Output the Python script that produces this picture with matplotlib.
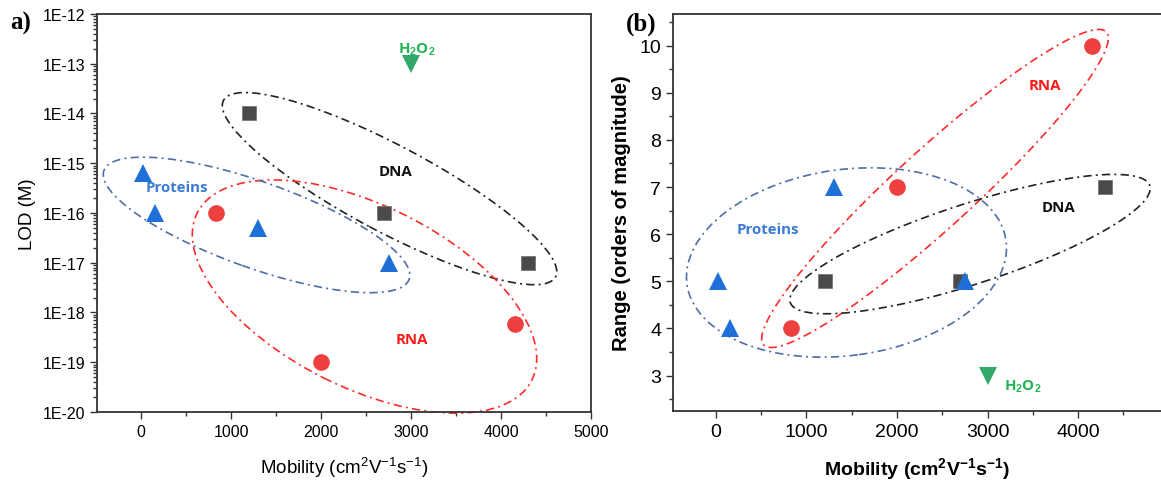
import numpy as np
import matplotlib
matplotlib.use("Agg")
import matplotlib.pyplot as plt
from matplotlib.patches import Ellipse
from matplotlib.transforms import ScaledTranslation
from matplotlib.ticker import FixedLocator, MultipleLocator, LogLocator, NullFormatter

plt.rcParams['font.family'] = ['Liberation Sans', 'DejaVu Sans']
plt.rcParams['mathtext.fontset'] = 'custom'
plt.rcParams['mathtext.rm'] = 'Liberation Sans'
plt.rcParams['mathtext.bf'] = 'Liberation Sans:bold'

# ---- data (mobility in cm2/Vs) ----
dna_mob = [1200, 2700, 4300]
dna_lod = [1e-14, 1e-16, 1e-17]
dna_range = [5, 5, 7]

rna_mob = [830, 2000, 4150]
rna_lod = [1e-16, 1e-19, 6e-19]
rna_range = [4, 7, 10]

prot_mob = [20, 150, 1300, 2750]
prot_lod = [6.5e-16, 1e-16, 5e-17, 1e-17]
prot_range = [5, 4, 7, 5]

h2o2_mob = [3000]
h2o2_lod = [1e-13]
h2o2_range = [3]

lod_ticks = [1e-20, 1e-19, 1e-18, 1e-17, 1e-16, 1e-15, 1e-14, 1e-13, 1e-12]
lod_labels = ['1E-20', '1E-19', '1E-18', '1E-17', '1E-16', '1E-15', '1E-14', '1E-13', '1E-12']

# colours
c_dna, c_rna, c_prot, c_h2o2 = '#4a4a4a', '#ef4040', '#1f6fd8', '#2fa868'
c_dna_l, c_rna_l, c_prot_l = '#222222', '#ff2a2a', '#4d6ea6'
t_dna, t_rna, t_prot, t_h2o2 = '#111111', '#ff1a1a', '#3b7bd2', '#22b455'

# group outlines: (x, y, semi-axes in px, angle, colour)
outline_a = [(2761, 10**-15.51, 188, 43, -28, c_dna_l),
             (2483, 10**-17.68, 187, 91, -26.5, c_rna_l),
             (1283, 10**-16.24, 162, 43, -19.6, c_prot_l)]
outline_b = [(2420, 6.97, 232, 39, 42.4, c_rna_l),
             (1442, 5.40, 161, 93, 7.8, c_prot_l),
             (2807, 5.79, 189, 40, 18, c_dna_l)]

W, H = 1161, 485
fig = plt.figure(figsize=(W / 100, H / 100), dpi=100)
ax1 = fig.add_axes([97 / W, 1 - 413 / H, (591 - 97) / W, (413 - 15) / H])
ax2 = fig.add_axes([673 / W, 1 - 412 / H, (1161 - 673) / W, (412 - 15) / H])

dash = (0, (5, 2.5, 1.2, 2.5))


def outline(ax, x, y, a, b, ang, col):
    tr = fig.dpi_scale_trans + ScaledTranslation(x, y, ax.transData)
    e = Ellipse((0, 0), 2 * a / 100, 2 * b / 100, angle=ang, transform=tr,
                fill=False, edgecolor=col, lw=1.2, linestyle=dash, zorder=2, clip_on=False)
    ax.add_patch(e)


def markers(ax, ys):
    ax.plot(dna_mob, ys[0], 's', ms=10.3, color=c_dna, mec='#777777', mew=0.6, zorder=3, ls='none')
    ax.plot(rna_mob, ys[1], 'o', ms=12, color=c_rna, mew=0, zorder=3, ls='none')
    ax.plot(prot_mob, ys[2], '^', ms=13, color=c_prot, mew=0, zorder=3, ls='none')
    ax.plot(h2o2_mob, ys[3], 'v', ms=13, color=c_h2o2, mew=0, zorder=3, ls='none')


lab_kw = dict(family=['Open Sans', 'DejaVu Sans'], fontweight='bold', fontsize=10.8,
              ha='center', va='center')

# ---- panel a ----
ax1.set_yscale('log')
ax1.set_xlim(-490, 5000)
ax1.set_ylim(1e-20, 1e-12)
markers(ax1, [dna_lod, rna_lod, prot_lod, h2o2_lod])
for o in outline_a:
    outline(ax1, *o)
ax1.text(400, 10**-15.48, 'Proteins', color=t_prot, **lab_kw)
ax1.text(2822, 10**-15.16, 'DNA', color=t_dna, **lab_kw)
ax1.text(3011, 10**-18.53, 'RNA', color=t_rna, **lab_kw)
ax1.text(3067, 10**-12.70, r'H$_\mathbf{2}$O$_\mathbf{2}$', color=t_h2o2, **lab_kw)

ax1.yaxis.set_major_locator(FixedLocator(lod_ticks))
ax1.set_yticklabels(lod_labels)
ax1.yaxis.set_minor_locator(LogLocator(base=10, subs=np.arange(2, 10), numticks=20))
ax1.yaxis.set_minor_formatter(NullFormatter())
ax1.xaxis.set_major_locator(FixedLocator([0, 1000, 2000, 3000, 4000, 5000]))
ax1.xaxis.set_minor_locator(MultipleLocator(500))
ax1.set_xlabel(r'Mobility (cm$^{2}$V$^{-1}$s$^{-1}$)', fontsize=13.5, labelpad=11)
ax1.set_ylabel('LOD (M)', fontsize=13.5, labelpad=5)
for s in ax1.spines.values():
    s.set_color('#333333')
    s.set_linewidth(1.3)
ax1.tick_params(which='both', direction='out', top=False, right=False, labelsize=11.5,
                color='#333333', width=1)
ax1.tick_params(which='major', length=5)
ax1.tick_params(which='minor', length=3)

# ---- panel b ----
ax2.set_xlim(-475, 4917)
ax2.set_ylim(2.25, 10.67)
markers(ax2, [dna_range, rna_range, prot_range, h2o2_range])
for o in outline_b:
    outline(ax2, *o)
ax2.text(575, 6.12, 'Proteins', color=t_prot, **lab_kw)
ax2.text(3779, 6.57, 'DNA', color=t_dna, **lab_kw)
ax2.text(3635, 9.17, 'RNA', color=t_rna, **lab_kw)
h_kw = dict(lab_kw)
h_kw['ha'] = 'left'
ax2.text(3182, 2.78, r'H$_\mathbf{2}$O$_\mathbf{2}$', color=t_h2o2, **h_kw)

ax2.xaxis.set_major_locator(FixedLocator([0, 1000, 2000, 3000, 4000]))
ax2.xaxis.set_minor_locator(MultipleLocator(500))
ax2.yaxis.set_major_locator(FixedLocator([3, 4, 5, 6, 7, 8, 9, 10]))
ax2.yaxis.set_minor_locator(MultipleLocator(0.5))
ax2.set_xlabel(r'Mobility (cm$^{\mathbf{2}}$V$^{\mathbf{-1}}$s$^{\mathbf{-1}}$)', fontsize=14,
               fontweight='bold', labelpad=11)
ax2.set_ylabel('Range (orders of magnitude)', fontsize=14.5, fontweight='bold', labelpad=6)
ax2.spines['right'].set_visible(False)
for s in ax2.spines.values():
    s.set_color('#333333')
    s.set_linewidth(1.3)
ax2.tick_params(which='both', direction='out', top=False, right=False, labelsize=14,
                color='#333333', width=1)
ax2.tick_params(which='major', length=5)
ax2.tick_params(which='minor', length=3)

fig.text(21 / W, 1 - 23 / H, 'a)', family=['Liberation Serif'], fontweight='bold', fontsize=18,
         ha='center', va='center')
fig.text(641 / W, 1 - 24 / H, '(b)', family=['Liberation Serif'], fontweight='bold', fontsize=18,
         ha='center', va='center')

fig.savefig('out.png', dpi=100)
